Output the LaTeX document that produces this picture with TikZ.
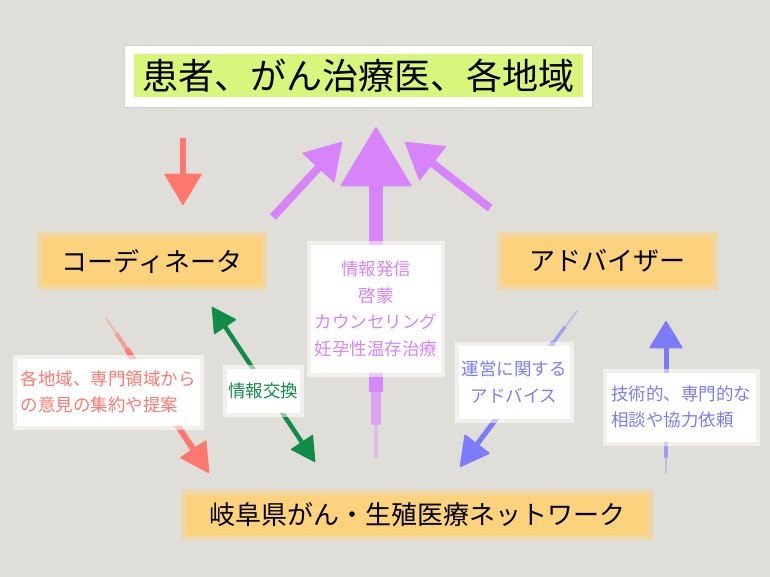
\documentclass[tikz,border=0pt]{standalone}
\usepackage{fontspec}
\setmainfont{Noto Sans CJK JP}
\usepackage{tikz}
\usetikzlibrary{arrows.meta, positioning, calc}

\definecolor{paper}{RGB}{224, 222, 217}
\definecolor{lime1}{RGB}{216, 246, 124}
\definecolor{orange1}{RGB}{252, 210, 124}
\definecolor{red1}{RGB}{255, 120, 112}
\definecolor{green1}{RGB}{16, 140, 72}
\definecolor{purple1}{RGB}{215, 132, 250}
\definecolor{blue1}{RGB}{124, 124, 250}

\begin{document}
\begin{tikzpicture}[x=1pt, y=-1pt,
    mainbox/.style={fill=orange1, draw=orange1!55!paper, line width=5pt, inner sep=0pt, font=\fontsize{26}{30}\selectfont},
    labelbox/.style={fill=white, draw=white, draw opacity=0.55, line width=8pt, inner sep=0pt, font=\fontsize{17.5}{26.5}\selectfont}]
  % paper background
  \fill[paper] (0,0) rectangle (770,577);

  % Top box
  \node[fill=white, draw=gray!35, minimum width=468pt, minimum height=62pt] (topframe) at (358,76) {};
  \node[fill=lime1, minimum width=449pt, minimum height=43pt, inner sep=0pt, font=\fontsize{36}{40}\selectfont] (top) at (topframe) {患者、がん治療医、各地域};

  % Three orange boxes
  \node[mainbox, minimum width=225pt, minimum height=53pt] (coord) at (152,261) {コーディネータ};
  \node[mainbox, minimum width=216pt, minimum height=53pt] (advisor) at (607,261) {アドバイザー};
  \node[mainbox, minimum width=467pt, minimum height=45pt] (network) at (417,515) {岐阜県がん・生殖医療ネットワーク};

  % Arrow ends
  \coordinate (downA) at (183,138);
  \coordinate (downB) at (183,205);
  \coordinate (collA) at (106,318);
  \coordinate (collB) at (209,473);
  \coordinate (exchA) at (212,307);
  \coordinate (exchB) at (315,462);
  \coordinate (infoA) at (376,458);
  \coordinate (infoB) at (376,127);
  \coordinate (leftA) at (273,217);
  \coordinate (leftB) at (342,142);
  \coordinate (rightA) at (490,208);
  \coordinate (rightB) at (405,142);
  \coordinate (adviceA) at (577,311);
  \coordinate (adviceB) at (460,467);
  \coordinate (consultA) at (666,473);
  \coordinate (consultB) at (666,321);

  % Solid arrows
  \draw[red1, line width=6pt, -{Triangle[round, line width=1.5pt, length=32pt, width=38pt]}] (downA) -- (downB);
  \draw[green1, line width=4.5pt, {Triangle[round, line width=1.5pt, length=25pt, width=27pt]}-{Triangle[round, line width=1.5pt, length=25pt, width=27pt]}] (exchA) -- (exchB);
  \draw[purple1, line width=8pt, -{Triangle[round, line width=1.5pt, length=36pt, width=44pt]}] (leftA) -- (leftB);
  \draw[purple1, line width=8pt, -{Triangle[round, line width=1.5pt, length=36pt, width=44pt]}] (rightA) -- (rightB);

  % Brush arrows, fading at the tail
  \foreach \from/\to/\col/\w/\hl/\hw in {collA/collB/red1/6pt/30pt/32pt, adviceA/adviceB/blue1/5pt/30pt/32pt, consultA/consultB/blue1/5pt/28pt/34pt, infoA/infoB/purple1/14pt/60pt/72pt}{
    \foreach \s [evaluate={\s as \p using min(100,35+30*\s)}, evaluate={\s as \lw using \w*min(1,0.35+0.3*\s)}] in {0,...,7}
      \draw[color=\col!\p!paper, line width=\lw pt] ($(\from)!0.1*\s!(\to)$) -- ($(\from)!0.1*\s+0.106!(\to)$);
    \draw[color=\col, line width=\w, -{Triangle[round, line width=1.5pt, length=\hl, width=\hw]}] ($(\from)!0.8!(\to)$) -- (\to);
  }

  % White label boxes
  \node[labelbox, align=center, minimum width=130pt, minimum height=128pt, text=purple1] (info) at (376,309) {情報発信\\啓蒙\\カウンセリング\\妊孕性温存治療};
  \node[labelbox, align=left, minimum width=183pt, minimum height=67pt, text=red1] (collect) at (108,392) {各地域、専門領域から\\の意見の集約や提案};
  \node[labelbox, align=center, minimum width=73pt, minimum height=44pt, text=green1] (exchange) at (263,391) {情報交換};
  \node[labelbox, align=center, minimum width=111pt, minimum height=73pt, text=blue1] (advice) at (514,382) {運営に関する\\アドバイス};
  \node[labelbox, align=left, minimum width=149pt, minimum height=69pt, text=blue1] (consult) at (681,407) {技術的、専門的な\\相談や協力依頼};
\end{tikzpicture}
\end{document}
